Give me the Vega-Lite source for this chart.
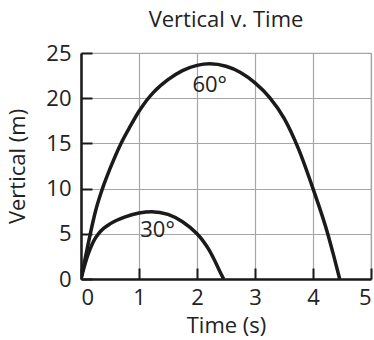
{
  "$schema": "https://vega.github.io/schema/vega-lite/v6.json",
  "width": 290,
  "height": 226,
  "autosize": "none",
  "padding": {"left": 81, "top": 53, "right": 3, "bottom": 61},
  "title": {"text": "Vertical v. Time", "fontSize": 22, "font": "Open Sans", "fontWeight": "normal", "color": "#222222", "offset": 10, "anchor": "middle"},
  "config": {
    "font": "Open Sans",
    "view": {"stroke": "#a6a6a6", "strokeWidth": 1.2},
    "axis": {
      "gridColor": "#a6a6a6", "gridWidth": 1.2, "gridOpacity": 1,
      "domainColor": "#1a1a1a", "domainWidth": 2.5,
      "tickColor": "#1a1a1a", "tickWidth": 2, "tickSize": -11,
      "labelFontSize": 22, "labelColor": "#222222", "labelFont": "Open Sans",
      "titleFontSize": 22, "titleColor": "#222222", "titleFont": "Open Sans", "titleFontWeight": "normal"
    }
  },
  "datasets": {
    "curves": [
      {"angle": "60", "t": 0, "y": 0},
      {"angle": "60", "t": 0.05, "y": 1.6},
      {"angle": "60", "t": 0.1, "y": 3.15},
      {"angle": "60", "t": 0.16, "y": 5.0},
      {"angle": "60", "t": 0.25, "y": 7.5},
      {"angle": "60", "t": 0.37, "y": 10.0},
      {"angle": "60", "t": 0.5, "y": 12.2},
      {"angle": "60", "t": 0.69, "y": 15.0},
      {"angle": "60", "t": 0.85, "y": 16.9},
      {"angle": "60", "t": 1.0, "y": 18.55},
      {"angle": "60", "t": 1.13, "y": 19.75},
      {"angle": "60", "t": 1.25, "y": 20.65},
      {"angle": "60", "t": 1.5, "y": 22.05},
      {"angle": "60", "t": 1.75, "y": 23.05},
      {"angle": "60", "t": 2.0, "y": 23.63},
      {"angle": "60", "t": 2.22, "y": 23.8},
      {"angle": "60", "t": 2.5, "y": 23.53},
      {"angle": "60", "t": 2.75, "y": 22.85},
      {"angle": "60", "t": 3.0, "y": 21.7},
      {"angle": "60", "t": 3.25, "y": 20.1},
      {"angle": "60", "t": 3.5, "y": 17.8},
      {"angle": "60", "t": 3.75, "y": 14.4},
      {"angle": "60", "t": 4.0, "y": 10.0},
      {"angle": "60", "t": 4.25, "y": 5.1},
      {"angle": "60", "t": 4.36, "y": 2.5},
      {"angle": "60", "t": 4.46, "y": 0},
      {"angle": "30", "t": 0, "y": 0},
      {"angle": "30", "t": 0.05, "y": 1.2},
      {"angle": "30", "t": 0.1, "y": 2.3},
      {"angle": "30", "t": 0.15, "y": 3.2},
      {"angle": "30", "t": 0.2, "y": 3.95},
      {"angle": "30", "t": 0.25, "y": 4.55},
      {"angle": "30", "t": 0.3, "y": 5.0},
      {"angle": "30", "t": 0.4, "y": 5.65},
      {"angle": "30", "t": 0.5, "y": 6.1},
      {"angle": "30", "t": 0.75, "y": 6.85},
      {"angle": "30", "t": 1.0, "y": 7.3},
      {"angle": "30", "t": 1.22, "y": 7.45},
      {"angle": "30", "t": 1.5, "y": 7.14},
      {"angle": "30", "t": 1.75, "y": 6.33},
      {"angle": "30", "t": 2.0, "y": 5.0},
      {"angle": "30", "t": 2.1, "y": 4.25},
      {"angle": "30", "t": 2.2, "y": 3.3},
      {"angle": "30", "t": 2.3, "y": 2.1},
      {"angle": "30", "t": 2.4, "y": 0.75},
      {"angle": "30", "t": 2.46, "y": 0}
    ],
    "labels": [
      {"t": 2.22, "y": 21.5, "label": "60°"},
      {"t": 1.32, "y": 5.4, "label": "30°"}
    ]
  },
  "layer": [
    {
      "data": {"name": "curves"},
      "mark": {"type": "line", "interpolate": "monotone", "strokeWidth": 3.5, "color": "#1a1a1a", "clip": true},
      "encoding": {
        "x": {"field": "t", "type": "quantitative", "scale": {"domain": [0, 5], "nice": false}, "axis": {"title": "Time (s)", "values": [0, 1, 2, 3, 4, 5], "format": "d", "labelPadding": 19, "titlePadding": 7}},
        "y": {"field": "y", "type": "quantitative", "scale": {"domain": [0, 25], "nice": false}, "axis": {"title": "Vertical (m)", "values": [0, 5, 10, 15, 20, 25], "format": "d", "labelPadding": 21, "titlePadding": 16}},
        "detail": {"field": "angle"}
      }
    },
    {
      "data": {"name": "labels"},
      "mark": {"type": "text", "fontSize": 22, "font": "Open Sans", "color": "#222222"},
      "encoding": {
        "x": {"field": "t", "type": "quantitative"},
        "y": {"field": "y", "type": "quantitative"},
        "text": {"field": "label"}
      }
    }
  ]
}
